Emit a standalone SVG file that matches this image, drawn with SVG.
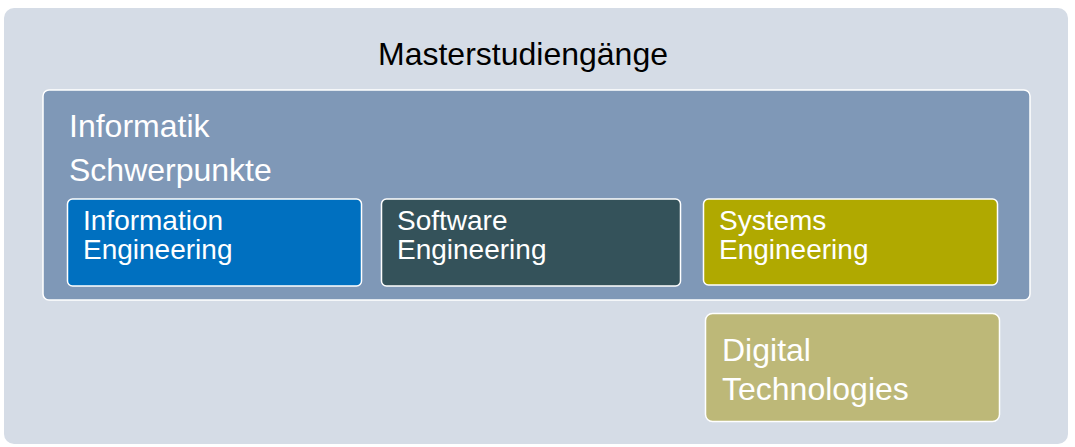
<svg xmlns="http://www.w3.org/2000/svg" width="1075" height="447" viewBox="0 0 1075 447">
<style>
text{font-family:"Liberation Sans",Arial,sans-serif;fill:#fff}
.box{stroke:#fff;stroke-width:1.5}
.t1{font-size:32px}
.t2{font-size:28px}
</style>
<rect x="0" y="0" width="1075" height="447" fill="#fff"/>
<g id="master">
<rect x="4" y="8" width="1064" height="436" rx="10" fill="#d5dce6"/>
<text x="523" y="65" text-anchor="middle" style="fill:#000;font-size:32px">Masterstudiengänge</text>
</g>
<g id="informatik">
<rect class="box" x="43" y="90" width="987" height="210" rx="6" fill="#7f98b7"/>
<text class="t1" x="69" y="137">Informatik</text>
<text class="t1" x="69" y="181">Schwerpunkte</text>
</g>
<g id="information-engineering">
<rect class="box" x="67.5" y="199" width="294" height="87" rx="5" fill="#0070c0"/>
<text class="t2" x="83" y="230">Information</text>
<text class="t2" x="83" y="259">Engineering</text>
</g>
<g id="software-engineering">
<rect class="box" x="381.5" y="199" width="299" height="87" rx="5" fill="#34525a"/>
<text class="t2" x="397" y="230">Software</text>
<text class="t2" x="397" y="259">Engineering</text>
</g>
<g id="systems-engineering">
<rect class="box" x="703.5" y="199" width="294" height="86" rx="5" fill="#b0a900"/>
<text class="t2" x="719" y="230">Systems</text>
<text class="t2" x="719" y="259">Engineering</text>
</g>
<g id="digital-technologies">
<rect class="box" x="705.5" y="313.5" width="294" height="108" rx="7" fill="#bdb878"/>
<text class="t1" x="722" y="361">Digital</text>
<text class="t1" x="722" y="400">Technologies</text>
</g>
<g id="connectors"/>
</svg>
